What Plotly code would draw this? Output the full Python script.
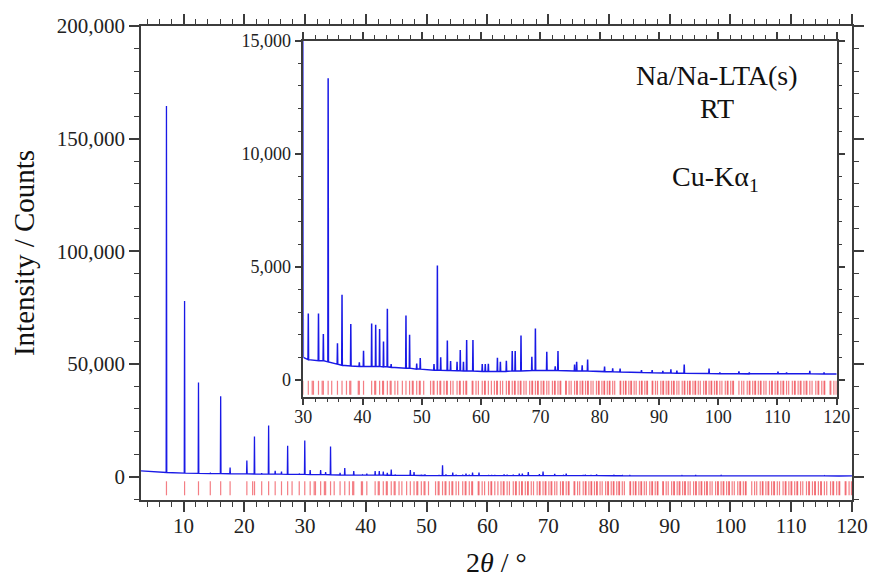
import plotly.graph_objects as go

# observed pattern: peak position (2theta), peak top, background under the peak
peak_pos = [7.19, 10.17, 12.46, 14.40, 16.11, 17.66, 20.42, 21.67, 22.86, 24.00,
            25.08, 26.12, 27.13, 29.04, 29.95, 30.84, 32.56, 33.38, 34.19, 35.76,
            36.53, 38.01, 39.45, 40.16, 41.53, 42.21, 42.87, 43.53, 44.18, 44.82,
            47.32, 47.93, 49.13, 49.73, 52.05, 52.62, 53.18, 54.30, 54.85, 55.94,
            56.48, 57.02, 57.56, 58.62, 60.19, 60.70, 61.22, 62.75, 63.25, 64.26,
            65.25, 65.75, 66.73, 68.56, 69.16, 71.08, 72.50, 72.97, 75.77, 76.12,
            77.05, 77.97, 80.83, 82.20, 83.45, 87.06, 88.86, 90.66, 92.02, 93.03,
            94.27, 98.46, 100.28, 103.50, 105.25, 110.09, 111.54, 115.46, 117.86]
peak_top = [164500, 77900, 41800, 1500, 35600, 4000, 7100, 17800, 1500, 22700,
            2600, 2200, 13700, 1300, 16000, 2940, 2940, 2030, 13340, 1620,
            3765, 2470, 780, 1290, 2500, 2440, 2250, 1700, 3150, 700,
            2850, 2000, 730, 970, 700, 5060, 1000, 1740, 840, 800,
            1320, 800, 1770, 1770, 700, 700, 720, 980, 800, 850,
            1280, 1280, 1970, 1030, 2280, 1250, 600, 1280, 680, 800,
            650, 900, 590, 520, 500, 440, 440, 400, 470, 410,
            680, 510, 330, 385, 330, 370, 330, 410, 340]
peak_foot = [1800, 1500, 1400, 1350, 1300, 1250, 1200, 1150, 1100, 1100,
             1050, 1050, 1000, 1000, 1000, 900, 850, 850, 800, 700,
             650, 620, 600, 600, 600, 600, 600, 580, 580, 560,
             520, 520, 480, 480, 430, 430, 430, 420, 420, 410,
             410, 400, 400, 400, 380, 380, 380, 380, 380, 380,
             400, 400, 400, 420, 420, 420, 420, 420, 400, 400,
             400, 400, 370, 360, 350, 330, 320, 310, 310, 300,
             300, 290, 280, 280, 270, 270, 270, 270, 260]
start_pt = (3.0, 2500)
end_pt = (120.0, 265)

# calculated reflection positions (2theta, Cu-Ka1)
refl_pos = [7.19, 10.17, 12.46, 14.40, 16.11, 17.66, 20.42, 21.37, 21.68, 22.86, 24.00, 25.08,
            26.12, 27.13, 27.86, 29.04, 29.95, 30.84, 31.50, 31.71, 32.56, 33.18, 33.38, 34.19,
            34.79, 35.76, 36.53, 37.28, 37.83, 38.01, 39.27, 39.45, 40.16, 41.53, 42.04, 42.21,
            42.87, 43.37, 43.53, 44.18, 44.66, 44.82, 45.46, 45.93, 46.71, 47.32, 47.93, 48.39,
            48.54, 49.13, 49.58, 49.73, 50.31, 51.47, 51.90, 52.05, 52.62, 53.04, 53.18, 53.74,
            54.16, 54.30, 54.85, 55.26, 55.94, 56.35, 56.48, 57.02, 57.42, 57.56, 58.49, 58.62,
            59.14, 59.54, 60.19, 60.58, 60.70, 61.22, 61.73, 62.24, 62.62, 62.75, 63.25, 63.63,
            64.26, 64.63, 64.76, 65.25, 65.63, 65.75, 66.24, 66.61, 66.73, 67.22, 67.59, 68.19,
            68.56, 68.68, 69.16, 69.52, 69.64, 70.12, 70.48, 70.60, 71.08, 71.43, 72.03, 72.38,
            72.50, 72.97, 73.32, 73.44, 74.26, 74.38, 74.84, 75.19, 75.77, 76.12, 76.24, 76.70,
            77.05, 77.16, 77.62, 77.97, 78.08, 78.54, 78.89, 79.46, 79.80, 79.92, 80.38, 80.72,
            80.83, 81.29, 81.63, 81.74, 82.20, 82.54, 83.45, 83.56, 84.01, 84.35, 84.46, 84.92,
            85.26, 85.37, 85.82, 86.16, 86.72, 87.06, 87.17, 87.62, 87.96, 88.07, 88.86, 88.97,
            89.42, 89.76, 90.32, 90.66, 90.78, 91.23, 91.56, 91.68, 92.13, 92.46, 92.58, 93.03,
            93.37, 93.93, 94.27, 94.38, 94.83, 95.17, 95.28, 95.74, 96.08, 96.19, 96.64, 96.98,
            97.55, 97.89, 98.00, 98.46, 98.80, 98.91, 99.37, 99.71, 99.83, 100.28, 100.63, 101.20,
            101.54, 101.66, 102.12, 102.46, 102.58, 103.50, 103.97, 104.32, 104.90, 105.25, 105.36, 105.83,
            106.18, 106.30, 106.77, 107.12, 107.24, 107.71, 108.07, 108.66, 109.02, 109.14, 109.61, 109.97,
            110.09, 110.57, 110.93, 111.05, 111.54, 111.90, 112.51, 112.87, 113.00, 113.49, 113.85, 113.98,
            114.47, 114.84, 114.97, 115.46, 115.84, 116.47, 116.84, 116.97, 117.48, 117.86, 117.98, 118.88,
            119.01, 119.52, 119.91]

# build the profile line from the peaks
hw = 0.05
xs, ys = [start_pt[0]], [start_pt[1]]
for p, top, foot in zip(peak_pos, peak_top, peak_foot):
    xs += [p - hw, p, p + hw]
    ys += [foot, top, foot]
xs.append(end_pt[0])
ys.append(end_pt[1])

FONT = "Times New Roman, Liberation Serif, DejaVu Serif, serif"
BLUE = "rgb(25,25,230)"
RED = "rgba(236,40,50,0.6)"
AX = "#3c3c3c"

fig = go.Figure()
fig.add_trace(go.Scatter(x=xs, y=ys, mode="lines", line=dict(color=BLUE, width=1.3),
                         xaxis="x", yaxis="y", showlegend=False))
fig.add_trace(go.Scatter(x=refl_pos, y=[-5200] * len(refl_pos), mode="markers",
                         marker=dict(symbol="line-ns", size=10, line=dict(color=RED, width=1.2)),
                         xaxis="x", yaxis="y", showlegend=False))
fig.add_trace(go.Scatter(x=xs, y=ys, mode="lines", line=dict(color=BLUE, width=1.5),
                         xaxis="x2", yaxis="y2", showlegend=False))
fig.add_trace(go.Scatter(x=refl_pos, y=[-340] * len(refl_pos), mode="markers",
                         marker=dict(symbol="line-ns", size=10, line=dict(color=RED, width=1.2)),
                         xaxis="x2", yaxis="y2", showlegend=False))


def ax(rng, dtick, mdtick, tlen, mlen, fsize, **kw):
    return dict(range=rng, dtick=dtick, tick0=0, ticks="outside", ticklen=tlen, tickwidth=1.5,
                tickcolor=AX, showline=True, linecolor=AX, linewidth=1.5, mirror="ticks",
                showgrid=False, zeroline=False, automargin=False,
                tickfont=dict(family=FONT, size=fsize, color="#222"),
                minor=dict(dtick=mdtick, ticks="outside", ticklen=mlen, tickwidth=1.2, tickcolor=AX,
                           showgrid=False),
                **kw)


fig.update_layout(
    template="none",
    width=870, height=579,
    margin=dict(l=141, r=18, t=26, b=79),
    plot_bgcolor="white", paper_bgcolor="white",
    separators=".,",
    xaxis=ax([3, 120], 10, 2, 10, 5, 21, domain=[0, 1], ticklabelstandoff=-4),
    yaxis=ax([-10400, 200000], 50000, 10000, 10, 5, 21, tickformat=",d", domain=[0, 1]),
    xaxis2=ax([30, 120], 10, 2, 7, 4, 18, domain=[0.2283, 0.9785], anchor="y2", ticklabelstandoff=-4),
    yaxis2=ax([-740, 15000], 5000, 1000, 7, 4, 18, tickformat=",d", domain=[0.2179, 0.969], anchor="x2"),
)


def label(text, x, y, size, angle=0):
    fig.add_annotation(text=text, x=x, y=y, xref="paper", yref="paper", showarrow=False,
                       xanchor="center", yanchor="middle", textangle=angle,
                       font=dict(family=FONT, size=size, color="#111"))


label("Intensity / Counts", -0.1645, 0.521, 29, angle=-90)
label("2<i>θ</i> / °", 0.5, -0.132, 28)
label("Na/Na-LTA(s)", 0.810, 0.8966, 28)
label("RT", 0.810, 0.827, 28)
label("Cu-Kα<sub>1</sub>", 0.808, 0.678, 28)

# drop the default page margin so the figure sits at the window corner
fig.write_html("out.html", config={"displayModeBar": False},
               post_script="document.body.style.margin='0px';")
